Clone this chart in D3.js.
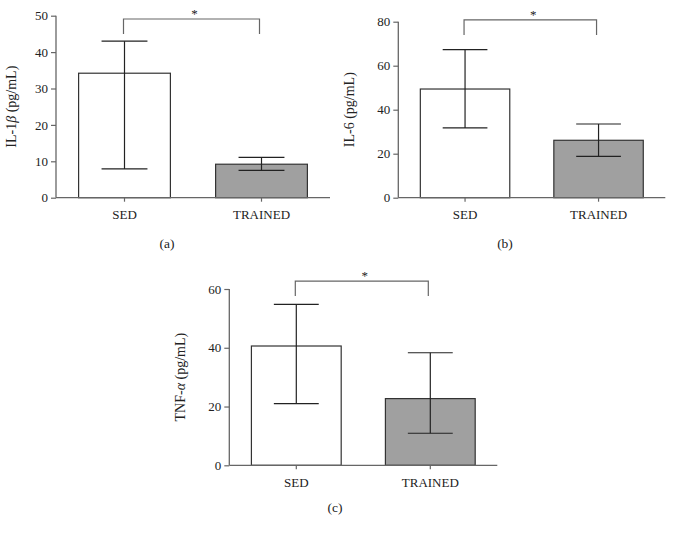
<!DOCTYPE html>
<html>
<head>
<meta charset="utf-8">
<script src="https://cdn.jsdelivr.net/npm/d3@7"></script>
<style>
  body { margin: 0; background: #fff; }
  svg { display: block; }
  text { font-family: "Liberation Serif", "Times New Roman", serif; fill: #222; }
</style>
</head>
<body>
<script>
// groups on the x axis
const groups = ["SED", "TRAINED"];

// IL-1beta, pg/mL
const il1bMean = [34.2, 9.2];
const il1bLow = [7.9, 7.5];
const il1bHigh = [43.0, 11.1];
const il1bTicks = [0, 10, 20, 30, 40, 50];

// IL-6, pg/mL
const il6Mean = [49.4, 26.1];
const il6Low = [31.7, 18.8];
const il6High = [67.3, 33.5];
const il6Ticks = [0, 20, 40, 60, 80];

// TNF-alpha, pg/mL
const tnfMean = [40.6, 22.7];
const tnfLow = [21.0, 10.9];
const tnfHigh = [54.8, 38.3];
const tnfTicks = [0, 20, 40, 60];

// where the significance bracket sits, in data units
const sigLevels = [49.1, 80.8, 62.7];
const panelTags = ["(a)", "(b)", "(c)"];

const width = 674, height = 535;
const fills = ["#ffffff", "#a0a0a0"];

const svg = d3.select("body").append("svg")
  .attr("width", width)
  .attr("height", height);

function drawPanel(opt) {
  var g = svg.append("g").attr("transform", "translate(" + opt.left + "," + opt.top + ")");
  var w = opt.w, h = opt.h;

  var x = d3.scaleBand().domain(groups).range([0, w])
    .paddingInner(0.33).paddingOuter(0.165);
  var y = d3.scaleLinear().domain([0, d3.max(opt.ticks)]).range([h, 0]);

  var rows = groups.map(function (k, i) {
    return { key: k, mean: opt.mean[i], lo: opt.low[i], hi: opt.high[i], fill: fills[i] };
  });

  // bars
  g.selectAll("rect.bar").data(rows).enter().append("rect")
    .attr("class", "bar")
    .attr("x", d => x(d.key))
    .attr("y", d => y(d.mean))
    .attr("width", x.bandwidth())
    .attr("height", d => h - y(d.mean))
    .attr("fill", d => d.fill)
    .attr("stroke", "#333")
    .attr("stroke-width", 1.2);

  // error bars
  var cap = x.bandwidth() / 4;
  var eb = g.selectAll("g.err").data(rows).enter().append("g").attr("class", "err")
    .attr("stroke", "#222").attr("stroke-width", 1.2);
  eb.append("line")
    .attr("x1", d => x(d.key) + x.bandwidth() / 2)
    .attr("x2", d => x(d.key) + x.bandwidth() / 2)
    .attr("y1", d => y(d.lo)).attr("y2", d => y(d.hi));
  eb.append("line")
    .attr("x1", d => x(d.key) + x.bandwidth() / 2 - cap)
    .attr("x2", d => x(d.key) + x.bandwidth() / 2 + cap)
    .attr("y1", d => y(d.hi)).attr("y2", d => y(d.hi));
  eb.append("line")
    .attr("x1", d => x(d.key) + x.bandwidth() / 2 - cap)
    .attr("x2", d => x(d.key) + x.bandwidth() / 2 + cap)
    .attr("y1", d => y(d.lo)).attr("y2", d => y(d.lo));

  // axes
  var yAxis = g.append("g")
    .call(d3.axisLeft(y).tickValues(opt.ticks).tickSize(5).tickPadding(3));
  var xAxis = g.append("g").attr("transform", "translate(0," + h + ")")
    .call(d3.axisBottom(x).tickSize(4).tickPadding(8));
  [yAxis, xAxis].forEach(function (a) {
    a.attr("font-family", null).attr("font-size", null);
    a.select(".domain").attr("stroke", "#666").attr("stroke-width", 1.3);
    a.selectAll(".tick line").attr("stroke", "#666").attr("stroke-width", 1.2);
    a.selectAll(".tick text").style("font-size", "13px").attr("fill", "#222");
  });
  xAxis.select(".domain").attr("d", "M0,0H" + w);
  yAxis.select(".domain").attr("d", "M0," + h + "V0");

  // y label, greek letter in italics
  var lab = g.append("text")
    .attr("transform", "translate(" + opt.labelX + "," + (h / 2) + ") rotate(-90)")
    .attr("text-anchor", "middle")
    .style("font-size", "14px");
  lab.append("tspan").text(opt.label[0]);
  if (opt.label[1]) lab.append("tspan").style("font-style", "italic").text(opt.label[1]);
  lab.append("tspan").text(opt.label[2]);

  // significance bracket
  var bx1 = x(groups[0]) + x.bandwidth() / 2 - 1;
  var bx2 = x(groups[1]) + x.bandwidth() / 2 - 2;
  var by = y(opt.sig);
  g.append("path")
    .attr("d", "M" + bx1 + "," + (by + 15) + "V" + by + "H" + bx2 + "V" + (by + 15))
    .attr("fill", "none").attr("stroke", "#666").attr("stroke-width", 1.2);
  g.append("text")
    .attr("x", (bx1 + bx2) / 2 + 3).attr("y", by - 1)
    .attr("text-anchor", "middle")
    .style("font-size", "13px").attr("fill", "#666")
    .text("*");

  // panel tag
  svg.append("text")
    .attr("x", opt.tagX).attr("y", opt.tagY)
    .attr("text-anchor", "middle")
    .style("font-size", "13.5px")
    .text(opt.tag);
}

drawPanel({ left: 56, top: 15.7, w: 274, h: 182, ticks: il1bTicks,
  mean: il1bMean, low: il1bLow, high: il1bHigh, sig: sigLevels[0],
  label: ["IL-1", "\u03B2", " (pg/mL)"], labelX: -40, tag: panelTags[0], tagX: 167, tagY: 248 });

drawPanel({ left: 398.3, top: 21.7, w: 267, h: 176, ticks: il6Ticks,
  mean: il6Mean, low: il6Low, high: il6High, sig: sigLevels[1],
  label: ["IL-6", "", " (pg/mL)"], labelX: -44, tag: panelTags[1], tagX: 505, tagY: 248 });

drawPanel({ left: 229.3, top: 289, w: 268, h: 176.3, ticks: tnfTicks,
  mean: tnfMean, low: tnfLow, high: tnfHigh, sig: sigLevels[2],
  label: ["TNF-", "\u03B1", " (pg/mL)"], labelX: -44, tag: panelTags[2], tagX: 335, tagY: 512 });
</script>
</body>
</html>
